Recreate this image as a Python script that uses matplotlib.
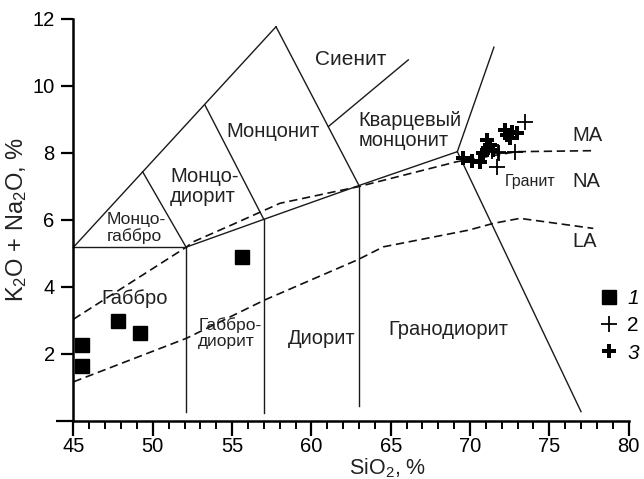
import numpy as np
import matplotlib
matplotlib.use("Agg")
import matplotlib.pyplot as plt

plt.rcParams['font.family'] = ['Liberation Sans', 'DejaVu Sans']
plt.rcParams['mathtext.default'] = 'regular'

# --- samples ---
sq_x = [45.52, 45.52, 47.82, 49.19, 55.64]
sq_y = [2.26, 1.63, 2.98, 2.61, 4.90]

thin_x = [73.47, 71.68, 71.78, 72.84, 71.40, 71.85]
thin_y = [8.93, 7.58, 8.03, 8.03, 8.05, 8.00]

thick_x = [69.58, 70.11, 70.63, 71.05, 71.26, 71.05, 71.47, 70.84,
           72.21, 72.63, 72.94, 72.52, 72.31]
thick_y = [7.83, 7.75, 7.73, 8.38, 8.23, 8.08, 8.08, 7.98,
           8.68, 8.63, 8.58, 8.43, 8.53]

# --- field boundaries (SiO2, K2O+Na2O) ---
solid_lines = [
    ([45.0, 57.77], [5.18, 11.76]),
    ([45.0, 52.1], [5.18, 5.18]),
    ([52.1, 49.36], [5.18, 7.43]),
    ([52.1, 57.0, 63.0, 69.2], [5.18, 6.01, 7.02, 8.03]),
    ([53.29, 57.0], [9.42, 6.01]),
    ([57.77, 63.0], [11.76, 7.02]),
    ([61.07, 66.11], [8.78, 10.77]),
    ([69.2, 71.51], [8.03, 11.15]),
    ([69.2, 77.0], [8.03, 0.27]),
    ([52.1, 52.1], [5.18, 0.27]),
    ([57.0, 57.0], [6.01, 0.24]),
    ([63.0, 63.0], [7.02, 0.44]),
]

ma_na_x = [45.0, 52.14, 52.55, 55.0, 58.02, 63.0, 69.16, 72.94, 77.77]
ma_na_y = [3.03, 5.19, 5.34, 5.85, 6.49, 6.99, 7.73, 8.03, 8.06]

na_la_x = [45.0, 52.12, 57.04, 62.9, 64.54, 69.93, 71.47, 73.15, 77.77]
na_la_y = [1.16, 2.46, 3.60, 4.80, 5.19, 5.69, 5.89, 6.04, 5.74]

# field names: (text, x, y, size, ha)
field_names = [
    ("Сиенит", 62.46, 10.77, 15, 'center'),
    ("Монцонит", 57.6, 8.63, 14.5, 'center'),
    ("Кварцевый\nмонцонит", 62.96, 8.66, 14.5, 'left'),
    ("Монцо-\nдиорит", 51.08, 6.98, 14.5, 'left'),
    ("Монцо-\nгаббро", 47.09, 5.75, 12.5, 'left'),
    ("Габбро", 48.88, 3.65, 14.5, 'center'),
    ("Габбро-\nдиорит", 52.87, 2.61, 12.5, 'left'),
    ("Диорит", 60.67, 2.46, 14.5, 'center'),
    ("Гранодиорит", 68.64, 2.71, 14.5, 'center'),
    ("Гранит", 73.78, 7.13, 11.5, 'center'),
    ("MA", 77.4, 8.52, 14.5, 'center'),
    ("NA", 77.36, 7.13, 14.5, 'center'),
    ("LA", 77.25, 5.34, 14.5, 'center'),
]

xticks = np.arange(45, 81, 5)
yticks = np.arange(0, 13, 2)
ytick_labels = [''] + [str(v) for v in yticks[1:]]

fig = plt.figure(figsize=(6.44, 4.79), dpi=100)
ax = fig.add_axes([0.1141, 0.1217, 0.862, 0.8393])

for xs, ys in solid_lines:
    ax.plot(xs, ys, color='#1a1a1a', lw=1.0, clip_on=False)

ax.plot(ma_na_x, ma_na_y, color='#111111', lw=1.2, dashes=(5, 2.8), clip_on=False)
ax.plot(na_la_x, na_la_y, color='#111111', lw=1.2, dashes=(5, 2.8), clip_on=False)

for txt, x, y, fs, ha in field_names:
    ax.text(x, y, txt, fontsize=fs, ha=ha, va='center', color='#222222',
            linespacing=1.05)

h1, = ax.plot(sq_x, sq_y, ls='none', marker='s', ms=10.5, color='black',
              clip_on=False, label='1')
h2, = ax.plot(thin_x, thin_y, ls='none', marker='+', ms=11, mew=1.3,
              color='black', clip_on=False, label='2')
h3, = ax.plot(thick_x, thick_y, ls='none', marker='P', ms=9.5, mew=0,
              color='black', clip_on=False, label='3')

leg = ax.legend(handles=[h1, h2, h3], loc='upper left',
                bbox_to_anchor=(600 / 644, 1 - 289 / 479),
                bbox_transform=fig.transFigure, frameon=False,
                fontsize=15, handlelength=0.9, handletextpad=0.4,
                labelspacing=0.4, borderpad=0, borderaxespad=0)
for t, style in zip(leg.get_texts(), ['italic', 'normal', 'italic']):
    t.set_fontstyle(style)

ax.set_xlim(45, 80)
ax.set_ylim(0, 12)
for side in ['top', 'right']:
    ax.spines[side].set_visible(False)
for side in ['left', 'bottom']:
    ax.spines[side].set_linewidth(1.8)

ax.set_xticks(xticks)
ax.set_xticks(np.arange(45, 81, 1), minor=True)
ax.set_yticks(yticks)
ax.set_yticklabels(ytick_labels)
ax.tick_params(axis='x', which='major', direction='out', length=11, width=1.6,
               labelsize=14.5, pad=0.5)
ax.tick_params(axis='x', which='minor', direction='out', length=6, width=1.4)
ax.tick_params(axis='y', which='major', direction='out', length=8.5, width=1.6,
               labelsize=14.5, pad=5)
ax.yaxis.get_major_ticks()[0].tick1line.set_markersize(12)

ax.set_xlabel("SiO$_2$, %", fontsize=15.5, color='#222222')
ax.xaxis.set_label_coords(0.566, -0.089)
ax.set_ylabel("K$_2$O + Na$_2$O, %", fontsize=17, color='#222222')
ax.yaxis.set_label_coords(-0.08, 0.5)

fig.savefig("out.png", dpi=100)
